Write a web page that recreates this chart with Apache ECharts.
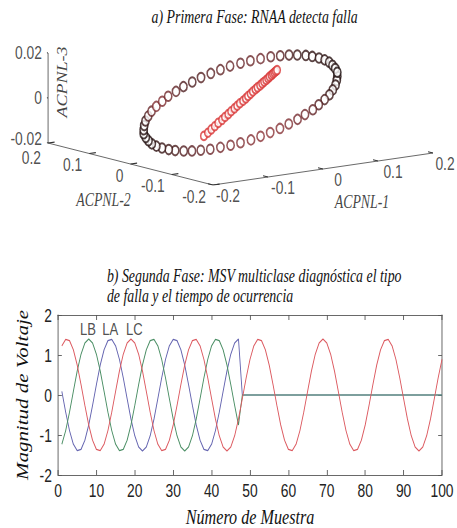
<!DOCTYPE html>
<html><head><meta charset="utf-8">
<script src="https://cdn.jsdelivr.net/npm/echarts@6/dist/echarts.min.js"></script>
<style>
html,body{margin:0;padding:0;background:#fff;overflow:hidden;}
#wrap{width:457px;height:528px;overflow:hidden;position:relative;background:#fff;}
#chart{width:594px;height:528px;transform:scaleX(0.76936);transform-origin:0 0;}
</style></head><body>
<div id="wrap"><div id="chart"></div></div>
<script>
// ===== a) Primera Fase: RNAA detecta falla (3-D scatter) =====
const acp1Ticks = [-0.2, -0.1, 0, 0.1, 0.2];
const acp1TickLabels = ['-0.2', '-0.1', '0', '0.1', '0.2'];
const acp2Ticks = [-0.2, -0.1, 0, 0.1, 0.2];
const acp2TickLabels = ['-0.2', '-0.1', '0', '0.1', '0.2'];
const acp3Ticks = [-0.02, 0, 0.02];
const acp3TickLabels = ['-0.02', '0', '0.02'];
const axisNames3d = ['ACPNL-1', 'ACPNL-2', 'ACPNL-3'];

// normal operation (ring)
const ringAcp1 = [0.176,0.169,0.160,0.149,0.137,0.123,0.107,0.091,0.073,0.055,
  0.036,0.017,-0.003,-0.022,-0.041,-0.060,-0.078,-0.095,-0.112,-0.127,
  -0.140,-0.152,-0.163,-0.171,-0.178,-0.183,-0.186,-0.186,-0.185,-0.182,
  -0.176,-0.169,-0.160,-0.149,-0.137,-0.123,-0.107,-0.091,-0.073,-0.055,
  -0.036,-0.017,0.003,0.022,0.041,0.060,0.078,0.095,0.112,0.127,
  0.140,0.152,0.163,0.171,0.178,0.183,0.186,0.186,0.185,0.182];
const ringAcp2 = [0.000,-0.008,-0.017,-0.025,-0.033,-0.040,-0.047,-0.054,-0.059,-0.065,
  -0.069,-0.073,-0.076,-0.078,-0.080,-0.080,-0.080,-0.078,-0.076,-0.073,
  -0.069,-0.065,-0.059,-0.054,-0.047,-0.040,-0.033,-0.025,-0.017,-0.008,
  0.000,0.008,0.017,0.025,0.033,0.040,0.047,0.054,0.059,0.065,
  0.069,0.073,0.076,0.078,0.080,0.080,0.080,0.078,0.076,0.073,
  0.069,0.065,0.059,0.054,0.047,0.040,0.033,0.025,0.017,0.008];
const ringAcp3 = [0.0056,0.0044,0.0031,0.0017,0.0003,-0.0010,-0.0024,-0.0037,-0.0050,-0.0062,
  -0.0074,-0.0085,-0.0095,-0.0104,-0.0112,-0.0118,-0.0123,-0.0127,-0.0130,-0.0131,
  -0.0131,-0.0129,-0.0126,-0.0121,-0.0115,-0.0108,-0.0100,-0.0090,-0.0080,-0.0068,
  -0.0056,-0.0044,-0.0031,-0.0017,-0.0003,0.0010,0.0024,0.0037,0.0050,0.0062,
  0.0074,0.0085,0.0095,0.0104,0.0112,0.0118,0.0123,0.0127,0.0130,0.0131,
  0.0131,0.0129,0.0126,0.0121,0.0115,0.0108,0.0100,0.0090,0.0080,0.0068];

// fault trajectory (red line)
const faultAcp1 = [-0.104,-0.093,-0.083,-0.073,-0.063,-0.053,-0.044,-0.035,-0.026,-0.017,
  -0.009,-0.001,0.007,0.015,0.022,0.029,0.036,0.043,0.049,0.056,
  0.062,0.067,0.073,0.078,0.083,0.088,0.092,0.096,0.100,0.104];
const faultAcp2 = [-0.050,-0.045,-0.040,-0.035,-0.030,-0.026,-0.021,-0.017,-0.012,-0.008,
  -0.004,0.000,0.003,0.007,0.011,0.014,0.018,0.021,0.024,0.027,
  0.030,0.032,0.035,0.037,0.040,0.042,0.044,0.046,0.048,0.050];
const faultAcp3 = [-0.0086,-0.0078,-0.0069,-0.0061,-0.0052,-0.0044,-0.0037,-0.0029,-0.0022,-0.0014,
  -0.0007,-0.0001,0.0006,0.0012,0.0018,0.0024,0.0030,0.0036,0.0041,0.0046,
  0.0051,0.0056,0.0060,0.0065,0.0069,0.0073,0.0077,0.0080,0.0083,0.0086];

// ===== b) Segunda Fase: MSV multiclase =====
const sampleNo = [1,2,3,4,5,6,7,8,9,10,11,12,13,14,15,16,17,18,19,20,
  21,22,23,24,25,26,27,28,29,30,31,32,33,34,35,36,37,38,39,40,
  41,42,43,44,45,46,47,48,49,50,51,52,53,54,55,56,57,58,59,60,
  61,62,63,64,65,66,67,68,69,70,71,72,73,74,75,76,77,78,79,80,
  81,82,83,84,85,86,87,88,89,90,91,92,93,94,95,96,97,98,99,100];
const lbValues = [-1.23,-0.89,-0.43,0.09,0.60,1.02,1.30,1.40,1.30,1.02,
  0.60,0.09,-0.43,-0.89,-1.23,-1.39,-1.36,-1.13,-0.75,-0.26,
  0.26,0.75,1.13,1.36,1.39,1.23,0.89,0.43,-0.09,-0.60,
  -1.02,-1.30,-1.40,-1.30,-1.02,-0.60,-0.09,0.43,0.89,1.23,
  1.39,1.36,1.13,0.75,0.26,-0.26,-0.75,0,0,0,
  0,0,0,0,0,0,0,0,0,0, 0,0,0,0,0,0,0,0,0,0,
  0,0,0,0,0,0,0,0,0,0, 0,0,0,0,0,0,0,0,0,0, 0,0,0,0,0,0,0,0,0,0];
const laValues = [0.09,-0.43,-0.89,-1.23,-1.39,-1.36,-1.13,-0.75,-0.26,0.26,
  0.75,1.13,1.36,1.39,1.23,0.89,0.43,-0.09,-0.60,-1.02,
  -1.30,-1.40,-1.30,-1.02,-0.60,-0.09,0.43,0.89,1.23,1.39,
  1.36,1.13,0.75,0.26,-0.26,-0.75,-1.13,-1.36,-1.39,-1.23,
  -0.89,-0.43,0.09,0.60,1.02,1.30,1.40,0,0,0,
  0,0,0,0,0,0,0,0,0,0, 0,0,0,0,0,0,0,0,0,0,
  0,0,0,0,0,0,0,0,0,0, 0,0,0,0,0,0,0,0,0,0, 0,0,0,0,0,0,0,0,0,0];
const lcValues = [1.23,1.39,1.36,1.13,0.75,0.26,-0.26,-0.75,-1.13,-1.36,
  -1.39,-1.23,-0.89,-0.43,0.09,0.60,1.02,1.30,1.40,1.30,
  1.02,0.60,0.09,-0.43,-0.89,-1.23,-1.39,-1.36,-1.13,-0.75,
  -0.26,0.26,0.75,1.13,1.36,1.39,1.23,0.89,0.43,-0.09,
  -0.60,-1.02,-1.30,-1.40,-1.30,-1.02,-0.60,-0.09,0.43,0.89,
  1.23,1.39,1.36,1.13,0.75,0.26,-0.26,-0.75,-1.13,-1.36,
  -1.39,-1.23,-0.89,-0.43,0.09,0.60,1.02,1.30,1.40,1.30,
  1.02,0.60,0.09,-0.43,-0.89,-1.23,-1.39,-1.36,-1.13,-0.75,
  -0.26,0.26,0.75,1.13,1.36,1.39,1.23,0.89,0.43,-0.09,
  -0.60,-1.02,-1.30,-1.40,-1.30,-1.02,-0.60,-0.09,0.43,0.89];
const phaseNames = ['LB', 'LA', 'LC'];
const phaseLabelX = [7.8, 13.6, 19.9];
const phaseLabelY = [1.65, 1.65, 1.65];

// ===== layout / style =====
const S = 457 / 594;                 // horizontal squeeze of the reference
const px = v => v / S;
const R1 = [-0.2, 0.2], R2 = [-0.2, 0.2], R3 = [-0.02, 0.02];
const E1 = [220, 32], E2 = [-165, 42], E3 = [0, 90]; // box edge vectors of the 3-D view
function proj(a, b, c) {
  const n1 = (a - R1[0]) / (R1[1] - R1[0]);
  const n2 = (b - R2[0]) / (R2[1] - R2[0]);
  const n3 = (c - R3[0]) / (R3[1] - R3[0]);
  return [n1 * E1[0] + n2 * E2[0] + n3 * E3[0], n1 * E1[1] + n2 * E2[1] + n3 * E3[1]];
}
const SANS = "'Liberation Sans', Arial, sans-serif";
const SERIF = "'Liberation Serif', 'Times New Roman', serif";
const AX = '#555';
const RING_COLORS = ['#1c0c0c','#3a1616','#6e282c','#8e3438','#7e2e32','#5e2225','#3a1616','#1c0c0c',
  '#2a1212','#8a3034','#4a1c1e','#642628','#70292d','#3a1818','#2a1212','#1c0c0c'];
const acp1LabelNudge = [0, 0, 0, 0, -3];   // keep the last label inside the picture
const acp2LabelNudgeY = [0, 0, 0, 0, 3];   // separate "0.2" from "-0.02" at the corner
const acp3LabelNudgeY = [-4, 0, 0];

const axisSegs = [
  [proj(R1[0], R2[0], R3[0]), proj(R1[1], R2[0], R3[0])],
  [proj(R1[0], R2[1], R3[0]), proj(R1[0], R2[0], R3[0])],
  [proj(R1[0], R2[1], R3[0]), proj(R1[0], R2[1], R3[1])]
];
const tickSegs = [];
acp1Ticks.forEach(t => tickSegs.push([proj(t, R2[0], R3[0]), proj(t, R2[0] + 0.012, R3[0])]));
acp2Ticks.forEach(t => tickSegs.push([proj(R1[0], t, R3[0]), proj(R1[0] + 0.012, t, R3[0])]));
acp3Ticks.forEach(t => tickSegs.push([proj(R1[0], R2[1], t), proj(R1[0], R2[1] + 0.012, t)]));

function labelSeries(data, label) {
  return {
    type: 'scatter', xAxisIndex: 0, yAxisIndex: 0, silent: true, clip: false,
    symbolSize: 1, itemStyle: { color: 'rgba(0,0,0,0)' },
    data: data,
    label: Object.assign({ show: true, position: 'inside', formatter: p => p.name, verticalAlign: 'middle',
      fontFamily: SANS, fontSize: 18, color: '#222' }, label)
  };
}
const nameFont = { fontFamily: SERIF, fontStyle: 'italic', fontSize: 18, color: '#111' };
const tickLabelStyle = { fontFamily: SANS, fontSize: 18, color: '#222' };

const option = {
  animation: false,
  backgroundColor: '#fff',
  title: [
    { text: 'a) Primera Fase: RNAA detecta falla', left: 192, top: 3,
      textStyle: { fontFamily: SERIF, fontStyle: 'italic', fontWeight: 'normal', fontSize: 18, color: '#111' } },
    { text: 'b) Segunda Fase: MSV multiclase diagnóstica el tipo\nde falla y el tiempo de ocurrencia', left: 134, top: 261,
      textStyle: { fontFamily: SERIF, fontStyle: 'italic', fontWeight: 'normal', fontSize: 18, lineHeight: 20, color: '#111' } }
  ],
  grid: [
    { left: px(48), top: 21, width: px(385), height: 164, containLabel: false, outerBoundsMode: 'none' },
    { left: px(58), top: 315, width: px(384), height: 160, containLabel: false, outerBoundsMode: 'none' }
  ],
  xAxis: [
    { gridIndex: 0, type: 'value', min: E2[0], max: E1[0], show: false },
    { gridIndex: 1, type: 'value', min: 0, max: 100, interval: 10, position: 'bottom',
      axisLine: { show: true, onZero: false, lineStyle: { color: AX, width: 1 } },
      axisTick: { show: true, inside: true, length: 5, lineStyle: { color: AX } },
      axisLabel: Object.assign({ margin: 6 }, tickLabelStyle),
      splitLine: { show: false },
      name: 'Número de Muestra', nameLocation: 'middle', nameGap: 31,
      nameTextStyle: { fontFamily: SERIF, fontStyle: 'italic', fontSize: 21, color: '#111' } },
    { gridIndex: 1, type: 'value', min: 0, max: 100, interval: 10, position: 'top',
      axisLine: { show: true, onZero: false, lineStyle: { color: AX, width: 1 } },
      axisTick: { show: true, inside: true, length: 5, lineStyle: { color: AX } },
      axisLabel: { show: false }, splitLine: { show: false } }
  ],
  yAxis: [
    { gridIndex: 0, type: 'value', min: 0, max: E1[1] + E2[1] + E3[1], show: false },
    { gridIndex: 1, type: 'value', min: -2, max: 2, interval: 1, position: 'left',
      axisLine: { show: true, onZero: false, lineStyle: { color: AX, width: 1 } },
      axisTick: { show: true, inside: true, length: 5, lineStyle: { color: AX } },
      axisLabel: Object.assign({ margin: 8 }, tickLabelStyle),
      splitLine: { show: false },
      name: 'Magnitud de Voltaje', nameLocation: 'middle', nameGap: 36, nameRotate: 90,
      nameTextStyle: { fontFamily: SERIF, fontStyle: 'italic', fontSize: 21, color: '#111' } },
    { gridIndex: 1, type: 'value', min: -2, max: 2, interval: 1, position: 'right',
      axisLine: { show: true, onZero: false, lineStyle: { color: AX, width: 1 } },
      axisTick: { show: true, inside: true, length: 5, lineStyle: { color: AX } },
      axisLabel: { show: false }, splitLine: { show: false } }
  ],
  visualMap: [{
    show: false, type: 'continuous', seriesIndex: 2, dimension: 2, min: 0, max: ringAcp1.length - 1,
    inRange: { color: RING_COLORS }
  }],
  series: [
    { type: 'lines', coordinateSystem: 'cartesian2d', xAxisIndex: 0, yAxisIndex: 0, silent: true,
      data: axisSegs.map(s => ({ coords: s })), lineStyle: { color: AX, width: 1, opacity: 1 } },
    { type: 'lines', coordinateSystem: 'cartesian2d', xAxisIndex: 0, yAxisIndex: 0, silent: true,
      data: tickSegs.map(s => ({ coords: s })), lineStyle: { color: '#333', width: 1.2, opacity: 1 } },
    { type: 'scatter', name: 'normal', xAxisIndex: 0, yAxisIndex: 0, silent: true, clip: false,
      symbol: 'emptyCircle', symbolSize: 9.5,
      itemStyle: { borderWidth: 1.7 },
      data: ringAcp1.map((v, i) => proj(v, ringAcp2[i], ringAcp3[i]).concat([i])) },
    { type: 'scatter', name: 'falla', xAxisIndex: 0, yAxisIndex: 0, silent: true, clip: false,
      symbol: 'emptyCircle', symbolSize: 8.5,
      itemStyle: { color: '#d83434', borderWidth: 1.6 },
      data: faultAcp1.map((v, i) => proj(v, faultAcp2[i], faultAcp3[i])) },
    labelSeries(acp1Ticks.map((t, i) => ({ value: proj(t, R2[0], R3[0]), name: acp1TickLabels[i],
        label: { offset: [px(15 + acp1LabelNudge[i]), 10] } })),
      { align: 'center', offset: [px(15), 10] }),
    labelSeries(acp2Ticks.map((t, i) => ({ value: proj(R1[0], t, R3[0]), name: acp2TickLabels[i],
        label: { offset: [px(-7), 11 + acp2LabelNudgeY[i]] } })),
      { align: 'right', offset: [px(-7), 11] }),
    labelSeries(acp3Ticks.map((t, i) => ({ value: proj(R1[0], R2[1], t), name: acp3TickLabels[i],
        label: { offset: [px(-6), -1 + acp3LabelNudgeY[i]] } })),
      { align: 'right', offset: [px(-6), -1] }),
    labelSeries([{ value: proj(0, R2[0], R3[0]), name: axisNames3d[0] }],
      Object.assign({ align: 'center', offset: [px(39), 33] }, nameFont)),
    labelSeries([{ value: proj(R1[0], 0, R3[0]), name: axisNames3d[1] }],
      Object.assign({ align: 'center', offset: [px(-27), 36] }, nameFont)),
    // rotated label: offset is given in the rotated frame -> screen (+14 sq px right, 16 px up)
    labelSeries([{ value: proj(R1[0], R2[1], 0), name: axisNames3d[2] }],
      Object.assign({ align: 'center', rotate: 90, offset: [16, px(14)] }, nameFont)),
    // b) waveforms
    { type: 'line', name: 'LA', xAxisIndex: 1, yAxisIndex: 1, showSymbol: false, silent: true,
      data: sampleNo.map((n, i) => [n, laValues[i]]), lineStyle: { color: '#6464b0', width: 1.2 } },
    { type: 'line', name: 'LB', xAxisIndex: 1, yAxisIndex: 1, showSymbol: false, silent: true,
      data: sampleNo.map((n, i) => [n, lbValues[i]]), lineStyle: { color: '#4a8e64', width: 1.2 } },
    { type: 'line', name: 'LC', xAxisIndex: 1, yAxisIndex: 1, showSymbol: false, silent: true,
      data: sampleNo.map((n, i) => [n, lcValues[i]]), lineStyle: { color: '#dc5a60', width: 1.2 } },
    { type: 'scatter', xAxisIndex: 1, yAxisIndex: 1, silent: true, clip: false, symbolSize: 1,
      itemStyle: { color: 'rgba(0,0,0,0)' },
      data: phaseNames.map((n, i) => ({ value: [phaseLabelX[i], phaseLabelY[i]], name: n })),
      label: { show: true, position: 'inside', formatter: p => p.name, align: 'center', verticalAlign: 'middle',
        fontFamily: SANS, fontSize: 17, color: '#222' } }
  ]
};
const chart = echarts.init(document.getElementById('chart'), null, { renderer: 'svg' });
chart.setOption(option);
</script>
</body></html>
